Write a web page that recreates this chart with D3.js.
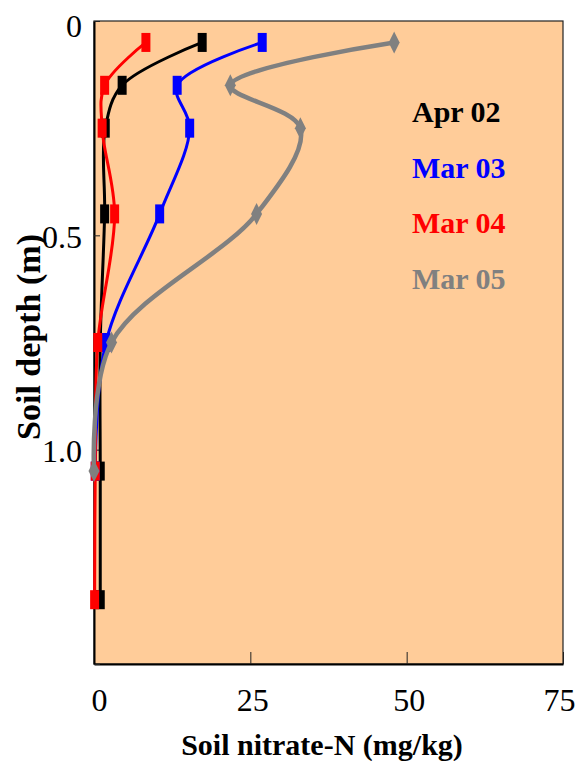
<!DOCTYPE html>
<html lang="en">
<head>
    <meta charset="UTF-8">
    <title>Soil nitrate-N profile</title>
    <script src="https://d3js.org/d3.v7.min.js"></script>
    <style>
        body { margin: 0; background: #fff; }
        text { font-family: "Liberation Serif", "Times New Roman", serif; }
    </style>
</head>
<body>
    <div id="chart"></div>

    <script>
        // Sampling depths (m) and nitrate values (mg/kg)
        const depths = [0.05, 0.15, 0.25, 0.45, 0.75, 1.05, 1.35];
        const apr02 = [17.3, 4.5, 1.8, 1.7, 1.0, 1.0, 1.0];
        const mar03 = [26.9, 13.3, 15.3, 10.5, 1.9, 0.2];
        const mar04 = [8.3, 1.7, 1.3, 3.3, 0.6, 0.2, 0.1];
        const mar05 = [48.0, 21.8, 33.0, 26.0, 2.8, 0.0];

        const seriesNames = ['Apr 02', 'Mar 03', 'Mar 04', 'Mar 05'];
        const seriesValues = [apr02, mar03, mar04, mar05];
        const seriesColors = ['#000000', '#0000ff', '#ff0000', '#808080'];

        const xTicks = [0, 25, 50, 75];
        const yTicks = [0, 0.5, 1.0, 1.5];
        const yTickLabels = ['0', '0.5', '1.0', ''];

        const width = 578, height = 761;
        const margin = { top: 21, right: 15, bottom: 97, left: 94 };

        const svg = d3.select('#chart')
            .append('svg')
            .attr('width', width)
            .attr('height', height);

        const x = d3.scaleLinear()
            .domain([0, 75])
            .range([margin.left, width - margin.right]);

        const y = d3.scaleLinear()
            .domain([0, 1.5])
            .range([margin.top, height - margin.bottom]);

        // plot background
        svg.append('rect')
            .attr('x', x(0))
            .attr('y', y(0))
            .attr('width', x(75) - x(0))
            .attr('height', y(1.5) - y(0))
            .attr('fill', '#ffcc99')
            .attr('stroke', '#222')
            .attr('stroke-width', 1.2);

        // bottom axis, ticks pointing inward
        const xAxis = svg.append('g')
            .attr('transform', `translate(0,${y(1.5)})`)
            .call(d3.axisBottom(x).tickValues(xTicks).tickSizeInner(-12).tickSizeOuter(0).tickPadding(24));
        xAxis.select('.domain').attr('stroke', '#000').attr('stroke-width', 2.2);
        xAxis.selectAll('.tick line').attr('stroke', '#222');
        xAxis.selectAll('.tick text')
            .attr('font-size', 32)
            .attr('fill', '#000')
            .attr('dx', d => d === 0 ? 5 : d === 75 ? -4 : 2)
            .style('font-family', '"Liberation Serif", "Times New Roman", serif');

        // left axis, ticks pointing inward
        const yAxis = svg.append('g')
            .attr('transform', `translate(${x(0)},0)`)
            .call(d3.axisLeft(y).tickValues(yTicks).tickSizeInner(-6).tickSizeOuter(0).tickPadding(12)
                .tickFormat((d, i) => yTickLabels[i]));
        yAxis.select('.domain').attr('stroke', '#000').attr('stroke-width', 2);
        yAxis.selectAll('.tick line').attr('stroke', '#222');
        yAxis.selectAll('.tick text')
            .attr('font-size', 32)
            .attr('fill', '#000')
            .attr('dy', d => d === 0 ? '0.47em' : '0.38em')
            .style('font-family', '"Liberation Serif", "Times New Roman", serif');

        // smoothed profile lines
        const line = d3.line()
            .x(d => x(d[0]))
            .y(d => y(d[1]))
            .curve(d3.curveCatmullRom.alpha(0.5));

        seriesValues.forEach((vals, i) => {
            const pts = vals.map((v, j) => [v, depths[j]]);
            const g = svg.append('g');
            g.append('path')
                .datum(pts)
                .attr('d', line)
                .attr('fill', 'none')
                .attr('stroke', seriesColors[i])
                .attr('stroke-width', i === 3 ? 4.5 : 3)
                .attr('stroke-linejoin', 'round');

            if (i === 3) {
                g.selectAll('path.mk')
                    .data(pts)
                    .join('path')
                    .attr('class', 'mk')
                    .attr('d', d => `M${x(d[0])},${y(d[1]) - 11}L${x(d[0]) + 5.5},${y(d[1])}L${x(d[0])},${y(d[1]) + 11}L${x(d[0]) - 5.5},${y(d[1])}Z`)
                    .attr('fill', seriesColors[i]);
            } else {
                g.selectAll('rect')
                    .data(pts)
                    .join('rect')
                    .attr('x', d => x(d[0]) - 4.5)
                    .attr('y', d => y(d[1]) - 9.5)
                    .attr('width', 9)
                    .attr('height', 19)
                    .attr('fill', seriesColors[i]);
            }
        });

        // legend as coloured labels
        svg.append('g')
            .selectAll('text')
            .data(seriesNames)
            .join('text')
            .attr('x', 412)
            .attr('y', (d, i) => 122 + i * 55.5)
            .attr('font-size', 30)
            .attr('font-weight', 'bold')
            .attr('fill', (d, i) => seriesColors[i])
            .text(d => d);

        // axis titles
        svg.append('text')
            .attr('x', 322)
            .attr('y', 755)
            .attr('text-anchor', 'middle')
            .attr('font-size', 30)
            .attr('font-weight', 'bold')
            .text('Soil nitrate-N (mg/kg)');

        svg.append('text')
            .attr('transform', 'translate(40,337) rotate(-90)')
            .attr('text-anchor', 'middle')
            .attr('font-size', 34)
            .attr('font-weight', 'bold')
            .text('Soil depth (m)');
    </script>
</body>
</html>
